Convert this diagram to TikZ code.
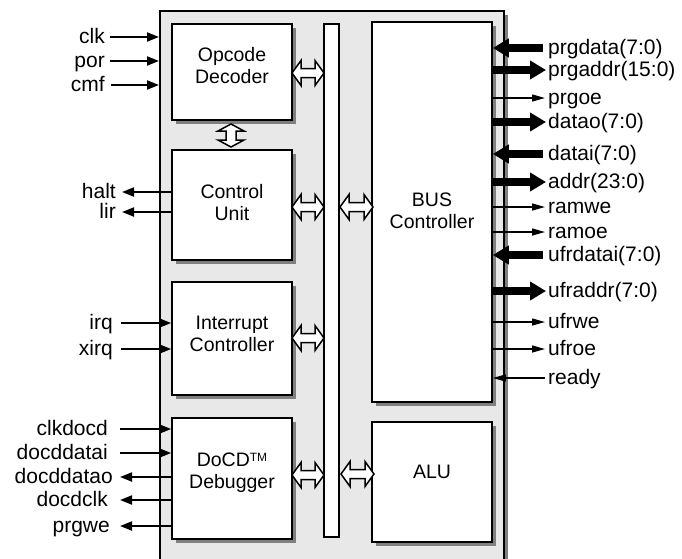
\documentclass[tikz,border=0pt]{standalone}
\usepackage{fontspec}
\setmainfont{Liberation Sans}
\usetikzlibrary{arrows.meta,shadows}
\definecolor{panel}{RGB}{232,232,232}
\definecolor{shade}{RGB}{128,128,128}
\tikzset{
  frm/.style={draw=black, line width=2pt, fill=panel, inner sep=0,
    drop shadow={shadow xshift=4pt, shadow yshift=-4pt, fill=shade, opacity=1}},
  blk/.style={draw=black, line width=1.6pt, fill=white, inner sep=0,
    drop shadow={shadow xshift=4pt, shadow yshift=-4pt, fill=shade, opacity=1}},
  busbar/.style={draw=black, line width=1.4pt, fill=white, inner sep=0},
  btxt/.style={font=\fontsize{19.5}{22}\selectfont, align=center, inner sep=0},
  lbl/.style={font=\fontsize{21}{24}\selectfont, inner sep=0, text height=15pt, text depth=2pt},
  sigin/.style={line width=2pt, -{Triangle[length=12pt,width=9pt]}},
  sigthin/.style={line width=1.4pt, -{Triangle[length=13pt,width=7pt]}},
  fat/.style={line width=8pt, -{Triangle[length=16pt,width=18pt]}},
  hollow/.style={draw=black, line width=1.5pt, fill=white, line join=miter}
}
\newcommand\hbiarr[3]{\draw[hollow] (#1,#3) -- ({#1+9},{#3-12.5}) -- ({#1+9},{#3-4.5}) -- ({#2-9},{#3-4.5}) -- ({#2-9},{#3-12.5}) -- (#2,#3) -- ({#2-9},{#3+12.5}) -- ({#2-9},{#3+4.5}) -- ({#1+9},{#3+4.5}) -- ({#1+9},{#3+12.5}) -- cycle;}
\newcommand\vbiarr[3]{\draw[hollow] (#1,#2) -- ({#1+13},{#2+7}) -- ({#1+5},{#2+7}) -- ({#1+5},{#3-7}) -- ({#1+13},{#3-7}) -- (#1,#3) -- ({#1-13},{#3-7}) -- ({#1-5},{#3-7}) -- ({#1-5},{#2+7}) -- ({#1-13},{#2+7}) -- cycle;}
\begin{document}
\begin{tikzpicture}[x=1pt,y=-1pt]
\useasboundingbox (0,0) rectangle (682,558);
\clip (0,0) rectangle (682,558);
% outer frame
\node[frm, minimum width=344pt, minimum height=589pt] (frame) at (332,305.5) {};
% blocks
\node[blk, minimum width=120pt, minimum height=96pt] (opc) at (232,72) {};
\node[blk, minimum width=120pt, minimum height=110pt] (ctl) at (232,205) {};
\node[blk, minimum width=120pt, minimum height=113pt] (irc) at (232,338.5) {};
\node[blk, minimum width=120pt, minimum height=121pt] (dcd) at (232,478.5) {};
\node[busbar, minimum width=15pt, minimum height=513pt] (bus) at (331.5,280.5) {};
\node[blk, minimum width=120pt, minimum height=380pt] (busc) at (432,212) {};
\node[blk, minimum width=120pt, minimum height=120pt] (alu) at (432,482) {};
% block texts
\node[btxt] (topc) at (232,66) {Opcode\\Decoder};
\node[btxt] (tctl) at (232,203) {Control\\Unit};
\node[btxt] (tirc) at (232,334) {Interrupt\\Controller};
\node[btxt] (tdcd) at (232,473) {DoCD\raisebox{5pt}{\fontsize{12}{12}\selectfont TM}\\Debugger};
\node[btxt] (tbusc) at (432,211) {BUS\\Controller};
\node[btxt] (talu) at (432,472) {ALU};
% hollow bidirectional arrows
\hbiarr{292}{324}{73}
\hbiarr{292}{324}{207}
\hbiarr{292}{324}{338}
\hbiarr{292}{324}{475}
\hbiarr{340}{373}{207}
\hbiarr{341}{374}{474}
\vbiarr{231}{124}{147}
% left signals
\node[lbl, anchor=east] (clk) at (105,37) {clk};
\node[lbl, anchor=east] (por) at (105,61) {por};
\node[lbl, anchor=east] (cmf) at (105,85) {cmf};
\draw[sigin] ([xshift=5pt]clk.east) -- (clk.east -| frame.west);
\draw[sigin] ([xshift=5pt]por.east) -- (por.east -| frame.west);
\draw[sigin] ([xshift=6pt]cmf.east) -- (cmf.east -| frame.west);
\node[lbl, anchor=east] (halt) at (116,192) {halt};
\node[lbl, anchor=east] (lir) at (116,212) {lir};
\draw[sigin] (halt.east -| ctl.west) -- ([xshift=6pt]halt.east);
\draw[sigin] (lir.east -| ctl.west) -- ([xshift=6pt]lir.east);
\node[lbl, anchor=east] (irq) at (113,323) {irq};
\node[lbl, anchor=east] (xirq) at (113,349) {xirq};
\draw[sigin] ([xshift=8pt]irq.east) -- (irq.east -| irc.west);
\draw[sigin] ([xshift=8pt]xirq.east) -- (xirq.east -| irc.west);
\node[lbl, anchor=east] (clkdocd) at (108,429) {clkdocd};
\node[lbl, anchor=east] (ddi) at (108,453) {docddatai};
\node[lbl, anchor=east] (ddo) at (113,477) {docddatao};
\node[lbl, anchor=east] (dclk) at (108,500) {docdclk};
\node[lbl, anchor=east] (prgwe) at (110,526) {prgwe};
\draw[sigin] ([xshift=12pt]clkdocd.east) -- (clkdocd.east -| dcd.west);
\draw[sigin] ([xshift=12pt]ddi.east) -- (ddi.east -| dcd.west);
\draw[sigin] (ddo.east -| dcd.west) -- ([xshift=7pt]ddo.east);
\draw[sigin] (dclk.east -| dcd.west) -- ([xshift=12pt]dclk.east);
\draw[sigin] (prgwe.east -| dcd.west) -- ([xshift=10pt]prgwe.east);
% right signals
\node[lbl, anchor=west] (prgdata) at (548,48) {prgdata(7:0)};
\node[lbl, anchor=west] (prgaddr) at (548,70) {prgaddr(15:0)};
\node[lbl, anchor=west] (prgoe) at (548,98) {prgoe};
\node[lbl, anchor=west] (datao) at (548,122) {datao(7:0)};
\node[lbl, anchor=west] (datai) at (548,154) {datai(7:0)};
\node[lbl, anchor=west] (addr) at (548,182) {addr(23:0)};
\node[lbl, anchor=west] (ramwe) at (548,207) {ramwe};
\node[lbl, anchor=west] (ramoe) at (548,232) {ramoe};
\node[lbl, anchor=west] (ufrdatai) at (548,255) {ufrdatai(7:0)};
\node[lbl, anchor=west] (ufraddr) at (548,291) {ufraddr(7:0)};
\node[lbl, anchor=west] (ufrwe) at (548,322) {ufrwe};
\node[lbl, anchor=west] (ufroe) at (548,349) {ufroe};
\node[lbl, anchor=west] (ready) at (548,378) {ready};
\draw[fat] ([xshift=-5pt]prgdata.west) -- (prgdata.west -| busc.east);
\draw[fat] (prgaddr.west -| busc.east) -- ([xshift=-2pt]prgaddr.west);
\draw[sigthin] (prgoe.west -| busc.east) -- ([xshift=-3pt]prgoe.west);
\draw[fat] (datao.west -| busc.east) -- ([xshift=-2pt]datao.west);
\draw[fat] ([xshift=-5pt]datai.west) -- (datai.west -| busc.east);
\draw[fat] (addr.west -| busc.east) -- ([xshift=-2pt]addr.west);
\draw[sigthin] (ramwe.west -| busc.east) -- ([xshift=-3pt]ramwe.west);
\draw[sigthin] (ramoe.west -| busc.east) -- ([xshift=-3pt]ramoe.west);
\draw[fat] ([xshift=-5pt]ufrdatai.west) -- (ufrdatai.west -| busc.east);
\draw[fat] (ufraddr.west -| busc.east) -- ([xshift=-2pt]ufraddr.west);
\draw[sigthin] (ufrwe.west -| busc.east) -- ([xshift=-3pt]ufrwe.west);
\draw[sigthin] (ufroe.west -| busc.east) -- ([xshift=-3pt]ufroe.west);
\draw[sigthin] ([xshift=-3pt]ready.west) -- (ready.west -| busc.east);
\end{tikzpicture}
\end{document}
